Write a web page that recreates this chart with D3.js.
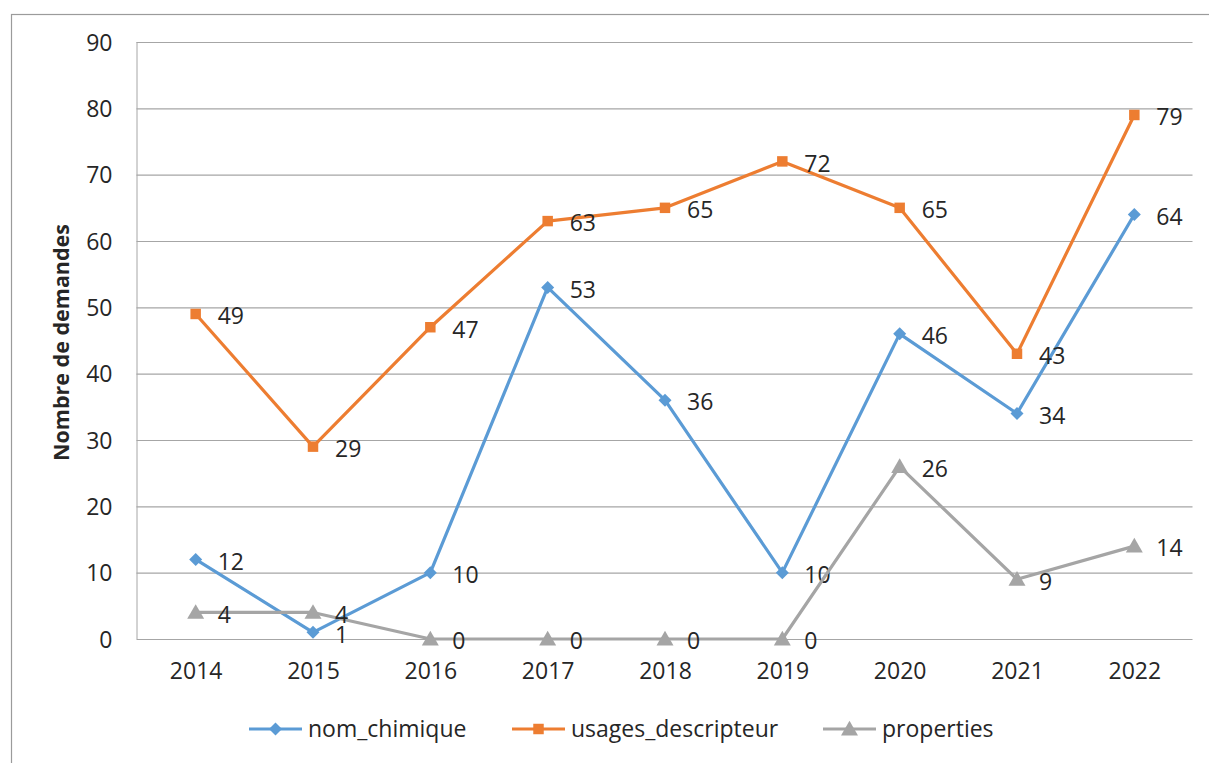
<!DOCTYPE html>
<html>
<head>
<meta charset="utf-8">
<script src="https://cdn.jsdelivr.net/npm/d3@7"></script>
<style>
  html, body { margin: 0; padding: 0; background: #fff; }
  svg { display: block; }
  text { font-family: "Open Sans", sans-serif; fill: #262626; }
</style>
</head>
<body>
<svg id="chart" width="1209" height="763"></svg>
<script>
const years = ["2014", "2015", "2016", "2017", "2018", "2019", "2020", "2021", "2022"];
const nomChimique = [12, 1, 10, 53, 36, 10, 46, 34, 64];
const usagesDescripteur = [49, 29, 47, 63, 65, 72, 65, 43, 79];
const properties = [4, 4, 0, 0, 0, 0, 26, 9, 14];
const yTicks = [0, 10, 20, 30, 40, 50, 60, 70, 80, 90];
const seriesNames = ["nom_chimique", "usages_descripteur", "properties"];
const seriesColors = ["#5B9BD5", "#ED7D31", "#A5A5A5"];
const yTitle = "Nombre de demandes";

const series = [
  { name: seriesNames[0], values: nomChimique, color: seriesColors[0], marker: "diamond" },
  { name: seriesNames[1], values: usagesDescripteur, color: seriesColors[1], marker: "square" },
  { name: seriesNames[2], values: properties, color: seriesColors[2], marker: "triangle" }
];

const svg = d3.select("#chart");
const W = 1209, H = 763;
const plot = { left: 137, right: 1193, top: 42, bottom: 639 };

// outer chart border
svg.append("rect")
  .attr("x", 11.5).attr("y", 14.5)
  .attr("width", W + 20).attr("height", H + 20)
  .attr("fill", "none").attr("stroke", "#9b9b9b").attr("stroke-width", 1.2);

const x = d3.scalePoint().domain(years).range([plot.left, plot.right]).padding(0.5);
const y = d3.scaleLinear().domain([0, 90]).range([plot.bottom, plot.top]);

// gridlines
const yAxis = d3.axisLeft(y).tickValues(yTicks).tickSize(-(plot.right - plot.left)).tickPadding(24).tickFormat(d3.format("d"));
const gy = svg.append("g").attr("transform", `translate(${plot.left - 0.5},0)`).call(yAxis);
gy.select(".domain").attr("stroke", "#a6a6a6").attr("d", `M0.5,${plot.top}V${plot.bottom}`);
gy.selectAll(".tick line").attr("stroke", "#a6a6a6").attr("stroke-width", 1.2);
gy.selectAll(".tick text").attr("font-size", 23).attr("fill", "#262626").attr("dy", "0.36em")
  .style("font-family", "'Open Sans', sans-serif");

// x axis labels
const xAxis = d3.axisBottom(x).tickSize(0).tickPadding(24);
const gx = svg.append("g").attr("transform", `translate(0,${plot.bottom})`).call(xAxis);
gx.select(".domain").remove();
gx.selectAll(".tick text").attr("font-size", 23).attr("fill", "#262626")
  .style("font-family", "'Open Sans', sans-serif");

// y title
svg.append("text")
  .attr("transform", `translate(69,${(plot.top + plot.bottom) / 2 + 2}) rotate(-90)`)
  .attr("text-anchor", "middle")
  .attr("font-size", 21.5).attr("font-weight", "bold")
  .text(yTitle);

const diamondPath = "M0,-6.5L6.5,0L0,6.5L-6.5,0Z";
const markerPath = m => m === "diamond" ? diamondPath
  : m === "square" ? d3.symbol().type(d3.symbolSquare).size(110)()
  : d3.symbol().type(d3.symbolTriangle).size(125)();

const line = d3.line().x((d, i) => x(years[i])).y(d => y(d));

series.forEach(s => {
  const g = svg.append("g");
  g.append("path").datum(s.values)
    .attr("d", line).attr("fill", "none")
    .attr("stroke", s.color).attr("stroke-width", 3.2).attr("stroke-linejoin", "round");
  g.selectAll("path.m").data(s.values).enter().append("path")
    .attr("class", "m")
    .attr("d", markerPath(s.marker))
    .attr("transform", (d, i) => `translate(${x(years[i])},${y(d) + (s.marker === "triangle" ? 1.5 : 0)})`)
    .attr("fill", s.color);
  g.selectAll("text").data(s.values).enter().append("text")
    .attr("x", (d, i) => x(years[i]) + 22)
    .attr("y", d => y(d) + 2)
    .attr("dy", "0.36em")
    .attr("font-size", 23)
    .text(d => d);
});

// legend
const legendItems = [
  { lineX: 249, textX: 308 },
  { lineX: 512, textX: 571 },
  { lineX: 823, textX: 882 }
];
const ly = 729;
series.forEach((s, i) => {
  const lx = legendItems[i].lineX;
  const g = svg.append("g");
  g.append("line").attr("x1", lx).attr("x2", lx + 53).attr("y1", ly).attr("y2", ly)
    .attr("stroke", s.color).attr("stroke-width", 3.2);
  g.append("path").attr("d", markerPath(s.marker))
    .attr("transform", `translate(${lx + 26.5},${ly + (s.marker === "triangle" ? 1.5 : 0)})`)
    .attr("fill", s.color);
  g.append("text").attr("x", legendItems[i].textX).attr("y", ly).attr("dy", "0.36em")
    .attr("font-size", 23).text(s.name);
});
</script>
</body>
</html>
